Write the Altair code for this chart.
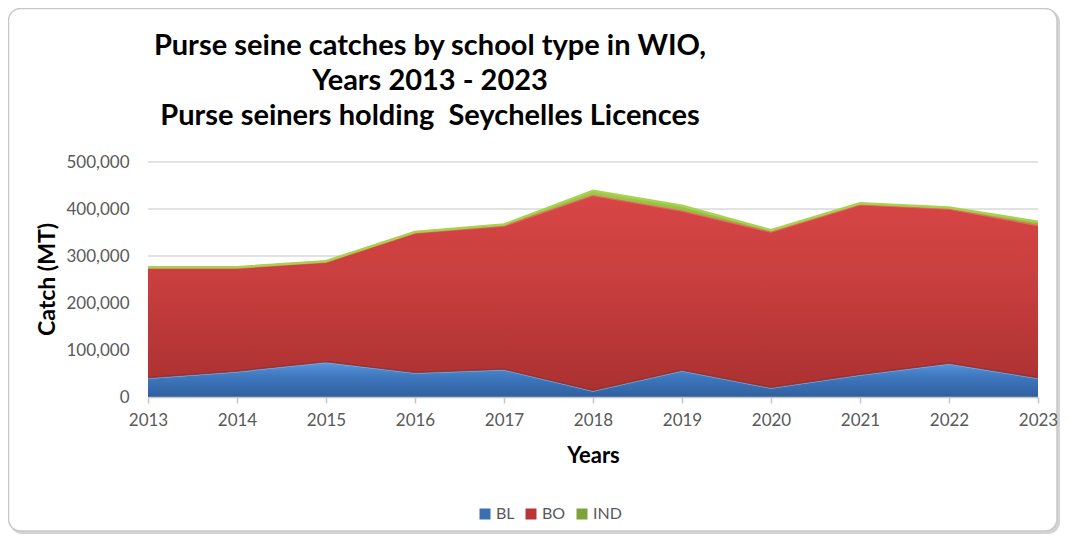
import altair as alt
import pandas as pd

years = [2013, 2014, 2015, 2016, 2017, 2018, 2019, 2020, 2021, 2022, 2023]
series_names = ["BL", "BO", "IND"]
BL = [41000, 55000, 75000, 52000, 59000, 14000, 57000, 20000, 48000, 72000, 41000]
BO = [234000, 220000, 213000, 298000, 306000, 416000, 340000, 332000, 362000, 329000, 325000]
IND = [1000, 1000, 1000, 1000, 2000, 9000, 10000, 3000, 2000, 2000, 7000]
y_ticks = [0, 100000, 200000, 300000, 400000, 500000]

rows = []
for i, y in enumerate(years):
    for k, (name, vals) in enumerate(zip(series_names, [BL, BO, IND])):
        rows.append({"year": y, "series": name, "catch": vals[i], "order": k})
df = pd.DataFrame(rows)

FONT = "Lato"
W, H = 890, 235

base = alt.Chart(df).transform_stack(
    stack="catch", groupby=["year"], as_=["y0", "y1"],
    sort=[alt.SortField("order", order="ascending")]
)

yscale = alt.Scale(domain=[0, 500000], nice=False)
xaxis = alt.Axis(values=years, format="d", title="Years", grid=False, zindex=1,
                 tickSize=6, tickWidth=1.5, tickColor="#c4c4c4", domainColor="#c4c4c4",
                 domainWidth=1.5, labelFlush=False,
                 labelFontSize=17, labelColor="#595959", labelPadding=9,
                 labelFont=FONT, titleFont=FONT, titleFontSize=22,
                 titleFontWeight="bold", titleColor="#000000",
                 titleY=58, titleBaseline="middle")
yaxis = alt.Axis(values=y_ticks, format=",.0f", title="Catch (MT)", domain=False,
                 ticks=False, grid=False, zindex=1,
                 labelFontSize=17, labelColor="#595959", labelPadding=19,
                 labelFont=FONT, titleFont=FONT, titleFontSize=23,
                 titleFontWeight="bold", titleColor="#000000",
                 titleX=-101, titleY=117, titleBaseline="middle", titleAngle=-90)
xenc = alt.X("year:Q", scale=alt.Scale(domain=[2013, 2023], nice=False, zero=False), axis=xaxis)
yenc = alt.Y("y1:Q", scale=yscale, axis=yaxis)

grads = {
    "BL": alt.Gradient(gradient="linear", x1=0, x2=0, y1=0, y2=1,
                       stops=[alt.GradientStop(color="#5b98dc", offset=0),
                              alt.GradientStop(color="#3f79c0", offset=0.4),
                              alt.GradientStop(color="#2f609f", offset=1)]),
    "BO": alt.Gradient(gradient="linear", x1=0, x2=0, y1=0, y2=1,
                       stops=[alt.GradientStop(color="#d84646", offset=0),
                              alt.GradientStop(color="#c63d3d", offset=0.5),
                              alt.GradientStop(color="#ab3131", offset=1)]),
    "IND": alt.Gradient(gradient="linear", x1=0, x2=0, y1=0, y2=1,
                        stops=[alt.GradientStop(color="#9dc84a", offset=0),
                               alt.GradientStop(color="#7ea33a", offset=1)]),
}
edges = {"BL": "#86c1f7", "BO": "#ec6262", "IND": "#a8d24e"}

layers = []
frame_df = pd.DataFrame({"k": [0]})
shadow = alt.Chart(frame_df).mark_rect(cornerRadius=12, fill="#d4d4d4").encode(
    x=alt.value(-138), x2=alt.value(W + 22), y=alt.value(-152), y2=alt.value(H + 137))
frame = alt.Chart(frame_df).mark_rect(cornerRadius=12, fill="white", stroke="#c8c8c8",
                                      strokeWidth=1.5).encode(
    x=alt.value(-139.5), x2=alt.value(W + 19), y=alt.value(-153.5), y2=alt.value(H + 134))
layers += [shadow, frame]

grid_df = pd.DataFrame({"v": y_ticks[1:]})
grid = alt.Chart(grid_df).mark_rule(color="#d9d9d9", strokeWidth=1.5).encode(
    y=alt.Y("v:Q", scale=yscale, axis=yaxis), x=alt.value(0), x2=alt.value(W))
layers.append(grid)

for name in series_names:
    sub = base.transform_filter(alt.datum.series == name)
    area = sub.mark_area(fill=grads[name], line=False, opacity=1).encode(
        x=xenc, y=yenc, y2="y0:Q")
    layers.append(area)
    if name == "BO":
        shade = sub.mark_line(color="#8a2a2a", strokeWidth=1.5, opacity=0.8).encode(
            x=xenc, y=alt.Y("y0:Q", scale=yscale, axis=yaxis))
        layers.append(shade)
    edge = sub.mark_line(color=edges[name], strokeWidth=2.5).encode(x=xenc, y=yenc)
    layers.append(edge)

legend_layer = alt.Chart(df).mark_square(opacity=0, size=1).encode(
    x=xenc, y=alt.Y("catch:Q", scale=yscale, axis=yaxis),
    color=alt.Color("series:N",
                    scale=alt.Scale(domain=series_names, range=["#3a6fb2", "#b93434", "#7ea33a"]),
                    legend=alt.Legend(orient="none", legendX=329, legendY=344,
                                      direction="horizontal", title=None,
                                      symbolType="square", symbolSize=121, symbolOpacity=1,
                                      symbolStrokeWidth=0,
                                      labelFont=FONT, labelFontSize=16, labelColor="#595959",
                                      labelOffset=3, columnPadding=8)))
layers.append(legend_layer)

chart = alt.layer(*layers).properties(
    width=W, height=H,
    autosize=alt.AutoSizeParams(type="none"),
    padding={"left": 140, "right": 22, "top": 154, "bottom": 137},
    title=alt.Title(text=["Purse seine catches by school type in WIO,",
                          "Years 2013 - 2023",
                          "Purse seiners holding\u00a0 Seychelles Licences"],
                    font=FONT, fontSize=29, fontWeight="bold", color="#000000",
                    anchor="middle", frame="group", dx=-163, lineHeight=35,
                    offset=0, dy=123),
).configure_view(stroke=None).configure(background="white")

chart.save("out.html", embed_options={"renderer": "svg", "actions": False})
